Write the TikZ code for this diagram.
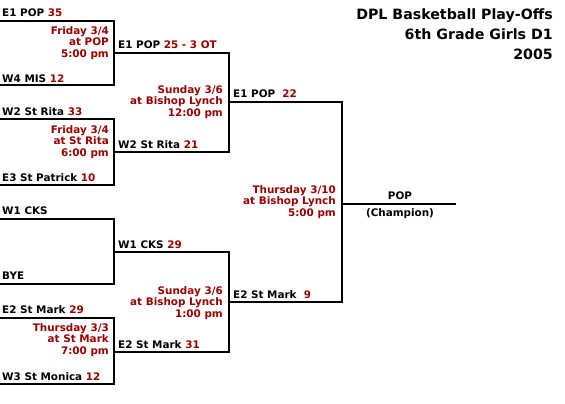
\documentclass[tikz,border=0pt]{standalone}
\usepackage{fontspec}
\setmainfont{DejaVu Sans}
\usepackage{tikz}
\usetikzlibrary{positioning}
\definecolor{scorered}{RGB}{153,0,0}
\newcommand{\pts}[1]{\textcolor{scorered}{#1}}

\begin{document}
\begin{tikzpicture}[
    x=1pt, y=-1pt,
    bracket/.style={draw, line width=2pt},
    team/.style={
        anchor=base west,
        inner sep=0pt,
        font=\fontsize{10.4}{12}\selectfont\bfseries
    },
    gameinfo/.style={
        anchor=east,
        align=right,
        inner sep=0pt,
        text=scorered,
        font=\fontsize{10.4}{11.8}\selectfont\bfseries
    },
    headline/.style={
        anchor=north east,
        align=right,
        inner sep=0pt,
        font=\fontsize{14.2}{19.8}\selectfont\bfseries
    }
]

\fill[white] (0,0) rectangle (565,404);
\useasboundingbox (0,0) rectangle (565,404);

% bracket corners
\coordinate (m1a) at (0,21);
\coordinate (m1b) at (0,85);
\coordinate (m1out) at (114,53);
\coordinate (m2a) at (0,119);
\coordinate (m2b) at (0,185);
\coordinate (m2out) at (114,152);
\coordinate (m3a) at (0,219);
\coordinate (m3b) at (0,284);
\coordinate (m3out) at (114,252);
\coordinate (m4a) at (0,318);
\coordinate (m4b) at (0,384);
\coordinate (m4out) at (114,352);
\coordinate (s1out) at (229,102);
\coordinate (s2out) at (229,302);
\coordinate (fin) at (342,204);
\coordinate (champ) at (456,204);

\draw[bracket] (m1a) -| (m1out) |- (m1b);
\draw[bracket] (m2a) -| (m2out) |- (m2b);
\draw[bracket] (m3a) -| (m3out) |- (m3b);
\draw[bracket] (m4a) -| (m4out) |- (m4b);
\draw[bracket] (m1out) -| (s1out) |- (m2out);
\draw[bracket] (m3out) -| (s2out) |- (m4out);
\draw[bracket] (s1out) -| (fin) |- (s2out);
\draw[bracket] (fin) -- (champ);

% first round
\node[team] (t1a) at (2,17) {E1 POP \pts{35}};
\node[team] (t1b) at (2,82) {W4 MIS \pts{12}};
\node[team] (t2a) at (2,115) {W2 St Rita \pts{33}};
\node[team] (t2b) at (2,181) {E3 St Patrick \pts{10}};
\node[team] (t3a) at (2,214) {W1 CKS};
\node[team] (t3b) at (2,279) {BYE};
\node[team] (t4a) at (2,313) {E2 St Mark \pts{29}};
\node[team] (t4b) at (2,380) {W3 St Monica \pts{12}};

\node[gameinfo] (g1) at (109,43) {Friday 3/4\\at POP\\5:00 pm};
\node[gameinfo] (g2) at (109,142) {Friday 3/4\\at St Rita\\6:00 pm};
\node[gameinfo] (g4) at (109,340) {Thursday 3/3\\at St Mark\\7:00 pm};

% semi finals
\node[team] (r2a) at (118,49) {E1 POP \pts{25 - 3 OT}};
\node[team] (r2b) at (118,148) {W2 St Rita \pts{21}};
\node[team] (r2c) at (118,248) {W1 CKS \pts{29}};
\node[team] (r2d) at (118,348) {E2 St Mark \pts{31}};

\node[gameinfo] (g5) at (223,102) {Sunday 3/6\\at Bishop Lynch\\12:00 pm};
\node[gameinfo] (g6) at (223,303) {Sunday 3/6\\at Bishop Lynch\\1:00 pm};

% final
\node[team] (r3a) at (233,98) {E1 POP\ \ \pts{22}};
\node[team] (r3b) at (233,298) {E2 St Mark\ \ \pts{9}};

\node[gameinfo] (g7) at (336,202) {Thursday 3/10\\at Bishop Lynch\\5:00 pm};

\node[team, anchor=base] (winner) at (400,199) {POP};
\node[team, anchor=base] (winnote) at (400,216) {(Champion)};

\node[headline] (head) at (553,8.5) {DPL Basketball Play-Offs\\6th Grade Girls D1\\2005};

\end{tikzpicture}
\end{document}
